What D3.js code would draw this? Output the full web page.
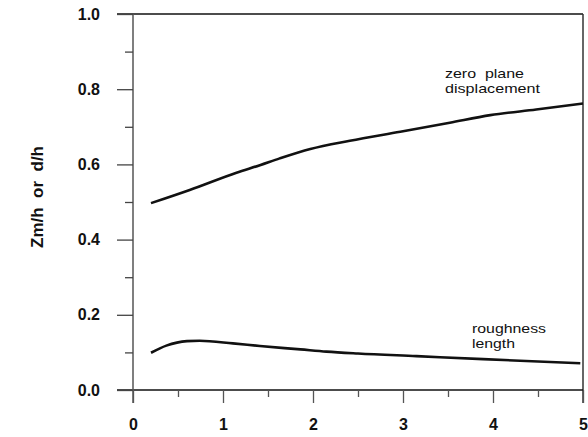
<!DOCTYPE html>
<html>
<head>
<meta charset="utf-8">
<script src="https://cdn.jsdelivr.net/npm/d3@7"></script>
<style>
  html, body { margin: 0; padding: 0; background: #fff; }
  svg { display: block; }
  text { font-family: Arial, "Liberation Sans", Helvetica, sans-serif; fill: #111; }
</style>
</head>
<body>
<svg id="chart" width="588" height="437"></svg>
<script>
// ---- data ----
const dispX = [0.2, 0.63, 1.15, 1.41, 1.63, 1.97, 2.41, 2.97, 3.52, 3.97, 4.48, 5.0];
const dispY = [0.497, 0.532, 0.578, 0.598, 0.616, 0.641, 0.663, 0.687, 0.711, 0.731, 0.746, 0.762];
const roughX = [0.2, 0.37, 0.6, 0.74, 1.11, 1.41, 1.86, 2.15, 2.5, 3.15, 3.89, 4.97];
const roughY = [0.099, 0.118, 0.130, 0.131, 0.124, 0.117, 0.108, 0.102, 0.097, 0.090, 0.082, 0.071];
const xTicks = [0, 1, 2, 3, 4, 5];
const xMinor = [0.5, 1.5, 2.5, 3.5, 4.5];
const yTicks = [0.0, 0.2, 0.4, 0.6, 0.8, 1.0];
const yMinor = [0.1, 0.3, 0.5, 0.7, 0.9];
const yTitle = "Zm/h  or  d/h";
const dispLabel = ["zero  plane", "displacement"];
const roughLabel = ["roughness", "length"];

// ---- layout ----
const svg = d3.select("#chart");
const x = d3.scaleLinear().domain([0, 5]).range([133, 583]);
const y = d3.scaleLinear().domain([0, 1]).range([390, 14]);

// frame: top and right borders, bottom line
svg.append("line").attr("x1", 117).attr("x2", x(5)).attr("y1", y(1)).attr("y2", y(1))
  .attr("stroke", "#111").attr("stroke-width", 1.5);
svg.append("line").attr("x1", x(5)).attr("x2", x(5)).attr("y1", y(1)).attr("y2", 403)
  .attr("stroke", "#333").attr("stroke-width", 1.5);
svg.append("line").attr("x1", 117).attr("x2", x(5)).attr("y1", y(0)).attr("y2", y(0))
  .attr("stroke", "#111").attr("stroke-width", 1.5);
// left axis
svg.append("line").attr("x1", x(0)).attr("x2", x(0)).attr("y1", y(1)).attr("y2", 403)
  .attr("stroke", "#555").attr("stroke-width", 1.5);

// y axis ticks and labels
const yAxis = d3.axisLeft(y).tickValues(yTicks).tickFormat(d3.format(".1f")).tickSize(16).tickPadding(17);
const gy = svg.append("g").attr("transform", `translate(${x(0)},0)`).call(yAxis);
gy.select(".domain").remove();
gy.selectAll(".tick line").attr("stroke", "#444").attr("stroke-width", 1.3);
gy.selectAll(".tick text").attr("font-size", 16).attr("font-weight", "bold")
  .attr("font-family", "Arial, 'Liberation Sans', sans-serif").attr("fill", "#111");
const yAxisMinor = d3.axisLeft(y).tickValues(yMinor).tickFormat("").tickSize(8);
const gym = svg.append("g").attr("transform", `translate(${x(0)},0)`).call(yAxisMinor);
gym.select(".domain").remove();
gym.selectAll(".tick line").attr("stroke", "#444").attr("stroke-width", 1.3);

// x axis ticks and labels
const xAxis = d3.axisBottom(x).tickValues(xTicks).tickFormat(d3.format("d")).tickSize(13).tickPadding(16);
const gx = svg.append("g").attr("transform", `translate(0,${y(0)})`).call(xAxis);
gx.select(".domain").remove();
gx.selectAll(".tick line").attr("stroke", "#555").attr("stroke-width", 1.3);
gx.selectAll(".tick text").attr("font-size", 16).attr("font-weight", "bold")
  .attr("font-family", "Arial, 'Liberation Sans', sans-serif").attr("fill", "#111");
const xAxisMinor = d3.axisBottom(x).tickValues(xMinor).tickFormat("").tickSize(7);
const gxm = svg.append("g").attr("transform", `translate(0,${y(0)})`).call(xAxisMinor);
gxm.select(".domain").remove();
gxm.selectAll(".tick line").attr("stroke", "#555").attr("stroke-width", 1.3);

// y title
svg.append("text")
  .attr("transform", `translate(43,197) rotate(-90)`)
  .attr("text-anchor", "middle")
  .attr("font-size", 17).attr("font-weight", "bold")
  .style("white-space", "pre")
  .text(yTitle);

// curves
const line = d3.line().x(d => x(d[0])).y(d => y(d[1])).curve(d3.curveMonotoneX);
svg.append("path").datum(d3.zip(dispX, dispY)).attr("d", line)
  .attr("fill", "none").attr("stroke", "#111").attr("stroke-width", 2.6);
svg.append("path").datum(d3.zip(roughX, roughY)).attr("d", line)
  .attr("fill", "none").attr("stroke", "#111").attr("stroke-width", 2.6);

// curve labels
const dispW = [79, 95];
const roughW = [74, 43];
const dl = svg.append("text").attr("x", 445).attr("y", 78).attr("font-size", 13).style("white-space", "pre");
dispLabel.forEach((t, i) => dl.append("tspan").attr("x", 445).attr("dy", i === 0 ? 0 : 15)
  .attr("textLength", dispW[i]).attr("lengthAdjust", "spacingAndGlyphs").text(t));
const rl = svg.append("text").attr("x", 472).attr("y", 333).attr("font-size", 13);
roughLabel.forEach((t, i) => rl.append("tspan").attr("x", 472).attr("dy", i === 0 ? 0 : 15)
  .attr("textLength", roughW[i]).attr("lengthAdjust", "spacingAndGlyphs").text(t));
</script>
</body>
</html>
